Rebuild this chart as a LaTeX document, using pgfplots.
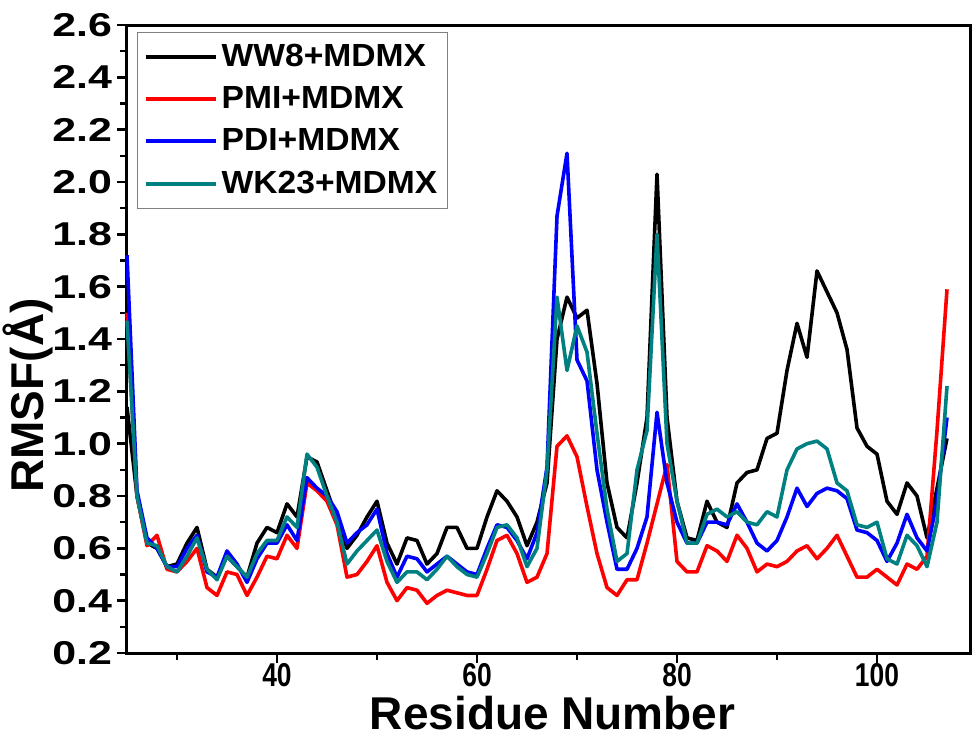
\documentclass[border=0pt]{standalone}
\usepackage{pgfplots}
\pgfplotsset{compat=1.18}
\usepackage{pgfplotstable}
\usepackage{fontspec}
\setmainfont{Liberation Sans}
\newfontfamily\xtfont[FakeStretch=0.8]{Liberation Sans}
\newfontfamily\ytfont[FakeStretch=1.3]{Liberation Sans}
\newfontfamily\legfont[FakeStretch=1.05]{Liberation Sans}

\definecolor{wkteal}{RGB}{0,128,128}

% residue, WW8, PMI, PDI, WK23
\pgfplotstableread{
r    ww8   pmi   pdi   wk23
25   1.14  1.50  1.72  1.47
26   0.80  0.80  0.82  0.80
27   0.62  0.61  0.64  0.62
28   0.60  0.65  0.60  0.61
29   0.53  0.52  0.53  0.53
30   0.54  0.51  0.53  0.51
31   0.62  0.55  0.60  0.57
32   0.68  0.60  0.65  0.64
33   0.52  0.45  0.51  0.52
34   0.49  0.42  0.49  0.48
35   0.57  0.51  0.59  0.57
36   0.53  0.50  0.54  0.53
37   0.49  0.42  0.47  0.49
38   0.62  0.49  0.56  0.58
39   0.68  0.57  0.62  0.63
40   0.66  0.56  0.62  0.63
41   0.77  0.65  0.69  0.72
42   0.72  0.60  0.63  0.68
43   0.95  0.85  0.87  0.96
44   0.93  0.82  0.83  0.91
45   0.82  0.78  0.80  0.80
46   0.71  0.69  0.74  0.70
47   0.60  0.49  0.62  0.54
48   0.65  0.50  0.66  0.59
49   0.72  0.55  0.69  0.63
50   0.78  0.61  0.75  0.67
51   0.62  0.47  0.58  0.55
52   0.54  0.40  0.49  0.47
53   0.64  0.45  0.57  0.51
54   0.63  0.44  0.56  0.51
55   0.54  0.39  0.51  0.48
56   0.58  0.42  0.54  0.52
57   0.68  0.44  0.57  0.57
58   0.68  0.43  0.54  0.53
59   0.60  0.42  0.51  0.50
60   0.60  0.42  0.50  0.49
61   0.72  0.52  0.60  0.58
62   0.82  0.63  0.69  0.68
63   0.78  0.65  0.68  0.69
64   0.72  0.58  0.63  0.64
65   0.61  0.47  0.56  0.53
66   0.70  0.49  0.66  0.60
67   0.85  0.58  0.91  0.90
68   1.40  0.99  1.87  1.56
69   1.56  1.03  2.11  1.28
70   1.48  0.95  1.32  1.45
71   1.51  0.76  1.24  1.35
72   1.23  0.58  0.90  1.04
73   0.85  0.45  0.70  0.75
74   0.68  0.42  0.52  0.55
75   0.64  0.48  0.52  0.58
76   0.85  0.48  0.60  0.90
77   1.10  0.62  0.72  1.05
78   2.03  0.77  1.12  1.80
79   1.10  0.92  0.85  1.00
80   0.78  0.55  0.70  0.78
81   0.64  0.51  0.62  0.62
82   0.63  0.51  0.62  0.62
83   0.78  0.61  0.70  0.73
84   0.70  0.59  0.70  0.75
85   0.68  0.55  0.69  0.72
86   0.85  0.65  0.77  0.74
87   0.89  0.60  0.70  0.70
88   0.90  0.51  0.62  0.69
89   1.02  0.54  0.59  0.74
90   1.04  0.53  0.63  0.72
91   1.28  0.55  0.72  0.90
92   1.46  0.59  0.83  0.98
93   1.33  0.61  0.76  1.00
94   1.66  0.56  0.81  1.01
95   1.58  0.60  0.83  0.98
96   1.50  0.65  0.82  0.85
97   1.36  0.57  0.79  0.82
98   1.06  0.49  0.67  0.69
99   0.99  0.49  0.66  0.68
100  0.96  0.52  0.63  0.70
101  0.78  0.49  0.55  0.56
102  0.73  0.46  0.62  0.54
103  0.85  0.54  0.73  0.65
104  0.80  0.52  0.64  0.61
105  0.64  0.57  0.59  0.53
106  0.83  1.05  0.78  0.70
107  1.02  1.59  1.10  1.22
}\rmsf

\begin{document}
\begin{tikzpicture}
\path[use as bounding box] (-63.5pt,-41.5pt) rectangle (425pt,326.5pt);
\begin{axis}[
at={(0,0)}, anchor=south west,
scale only axis,
width=421.5pt, height=314pt,
xmin=25, xmax=109.3,
ymin=0.2, ymax=2.6,
xtick={40,60,80,100},
minor xtick={30,50,70,90},
ytick={0.2,0.4,...,2.61},
minor y tick num=1,
xtick pos=bottom, ytick pos=left,
tick align=outside,
major tick length=5pt, minor tick length=3.5pt,
every tick/.style={line width=1.2pt, black},
axis line style={line width=1.5pt},
/pgf/number format/assume math mode=true,
yticklabel style={font=\ytfont\bfseries\fontsize{16.5}{16.5}\selectfont,
  xshift=1pt,
  /pgf/number format/.cd, fixed, fixed zerofill, precision=1},
xticklabel style={font=\xtfont\bfseries\fontsize{16.5}{16.5}\selectfont,
  inner sep=1pt, yshift=1pt},
xlabel={Residue Number},
ylabel={RMSF(Å)},
xlabel style={font=\bfseries\fontsize{23}{23}\selectfont,
  at={(axis description cs:0.505,-0.121)}, anchor=base, inner sep=0pt},
ylabel style={font=\bfseries\fontsize{23}{23}\selectfont,
  at={(axis description cs:-0.118,0.41)}, anchor=center, inner sep=0pt},
legend style={at={(0.012,0.989)}, anchor=north west, draw=gray,
  line width=0.6pt, font=\legfont\bfseries\fontsize{16}{16}\selectfont,
  row sep=4.5pt, inner xsep=3pt, inner ysep=4pt},
legend cell align=left,
legend image code/.code={\draw[#1, line width=2pt] (0pt,0pt) -- (35pt,0pt);},
every axis plot/.append style={line width=1.8pt, line join=round},
clip=false,
]
\addplot[black] table[x=r, y=ww8] {\rmsf};
\addlegendentry{WW8+MDMX}
\addplot[red] table[x=r, y=pmi] {\rmsf};
\addlegendentry{PMI+MDMX}
\addplot[blue] table[x=r, y=pdi] {\rmsf};
\addlegendentry{PDI+MDMX}
\addplot[wkteal] table[x=r, y=wk23] {\rmsf};
\addlegendentry{WK23+MDMX}
\end{axis}
\end{tikzpicture}
\end{document}
